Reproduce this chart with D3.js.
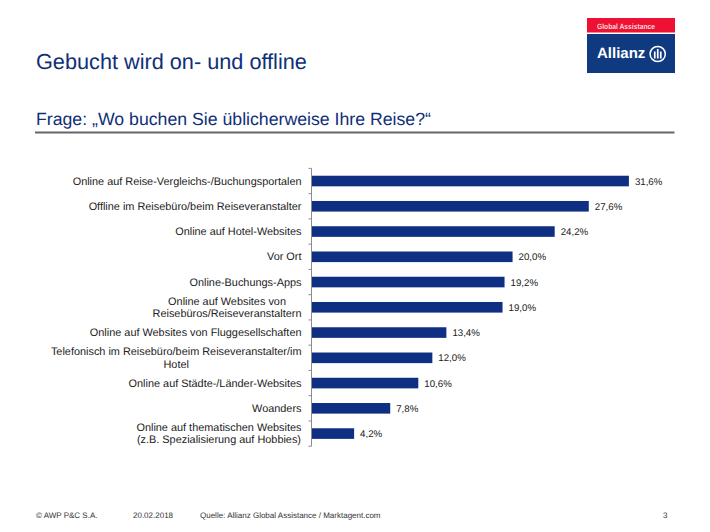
<!DOCTYPE html>
<html lang="de">
<head>
<meta charset="UTF-8">
<title>Gebucht wird on- und offline</title>
<script src="https://d3js.org/d3.v7.min.js"></script>
<style>
  body { margin: 0; background: #fff; }
  svg { display: block; font-family: "Liberation Sans", Arial, sans-serif; text-rendering: geometricPrecision; }
</style>
</head>
<body>
<div id="chart"></div>
<script>
// Daten
const categories = [
  ["Online auf Reise-Vergleichs-/Buchungsportalen"],
  ["Offline im Reisebüro/beim Reiseveranstalter"],
  ["Online auf Hotel-Websites"],
  ["Vor Ort"],
  ["Online-Buchungs-Apps"],
  ["Online auf Websites von", "Reisebüros/Reiseveranstaltern"],
  ["Online auf Websites von Fluggesellschaften"],
  ["Telefonisch im Reisebüro/beim Reiseveranstalter/im", "Hotel"],
  ["Online auf Städte-/Länder-Websites"],
  ["Woanders"],
  ["Online auf thematischen Websites", "(z.B. Spezialisierung auf Hobbies)"]
];
const values = [31.6, 27.6, 24.2, 20.0, 19.2, 19.0, 13.4, 12.0, 10.6, 7.8, 4.2];
const footerTexts = [
  { text: "© AWP P&C S.A.", x: 36 },
  { text: "20.02.2018", x: 133 },
  { text: "Quelle: Allianz Global Assistance / Marktagent.com", x: 200 },
  { text: "3", x: 663 }
];

const width = 710, height = 532;
const navy = "#0f3082";

const svg = d3.select("#chart").append("svg")
  .attr("width", width)
  .attr("height", height);

// Titel
svg.append("text")
  .attr("x", 36).attr("y", 68.5)
  .attr("font-size", 21.7)
  .attr("fill", "#0f2f78")
  .text("Gebucht wird on- und offline");

svg.append("text")
  .attr("x", 36).attr("y", 125)
  .attr("font-size", 17.7)
  .attr("fill", "#0f2f78")
  .text("Frage: „Wo buchen Sie üblicherweise Ihre Reise?“");

svg.append("rect")
  .attr("x", 35).attr("y", 131.5)
  .attr("width", 639.5).attr("height", 2)
  .attr("fill", "#666");

// Logo
svg.append("rect").attr("x", 587).attr("y", 18).attr("width", 88).attr("height", 14.5).attr("fill", "#ee1133");
svg.append("text").attr("x", 597).attr("y", 28.5)
  .attr("font-size", 7.6).attr("font-weight", "bold").attr("fill", "#f7d9d9")
  .attr("textLength", 58).attr("lengthAdjust", "spacingAndGlyphs")
  .text("Global Assistance");
svg.append("rect").attr("x", 587).attr("y", 34).attr("width", 88).attr("height", 39).attr("fill", "#103a80");
svg.append("text").attr("x", 597).attr("y", 58)
  .attr("font-size", 15).attr("font-weight", "bold").attr("fill", "#fff")
  .text("Allianz");
svg.append("circle").attr("cx", 657.7).attr("cy", 54).attr("r", 7.6).attr("fill", "none").attr("stroke", "#fff").attr("stroke-width", 1.5);
svg.selectAll(".logo-bar")
  .data([-3, 0, 3])
  .enter().append("rect")
  .attr("class", "logo-bar")
  .attr("x", d => 656.9 + d)
  .attr("y", d => d === 0 ? 49 : 51.5)
  .attr("width", 1.7)
  .attr("height", d => d === 0 ? 9.5 : 7)
  .attr("fill", "#fff");

// Skalen
const x = d3.scaleLinear().domain([0, 35]).range([312, 312 + 351]);
const y = d3.scaleBand()
  .domain(d3.range(categories.length))
  .range([168.4, 446.2])
  .paddingInner(0.58)
  .paddingOuter(0.29);

// Achse
const step = y.step();
const axis = svg.append("g").attr("stroke", "#8c8c8c").attr("stroke-width", 1).attr("fill", "none");
axis.append("line")
  .attr("x1", 311.5).attr("x2", 311.5)
  .attr("y1", 168.4).attr("y2", 446.2);
axis.selectAll(".tick")
  .data(d3.range(categories.length + 1))
  .enter().append("line")
  .attr("class", "tick")
  .attr("x1", 308.5).attr("x2", 311.5)
  .attr("y1", d => 168.4 + d * step)
  .attr("y2", d => 168.4 + d * step);

// Balken
svg.selectAll(".bar")
  .data(values)
  .enter().append("rect")
  .attr("class", "bar")
  .attr("x", x(0))
  .attr("y", (d, i) => y(i))
  .attr("width", d => x(d) - x(0))
  .attr("height", y.bandwidth())
  .attr("fill", navy);

// Werte
svg.selectAll(".value")
  .data(values)
  .enter().append("text")
  .attr("class", "value")
  .attr("x", d => x(d) + 6)
  .attr("y", (d, i) => y(i) + y.bandwidth() / 2 + 3.6)
  .attr("font-size", 9.7)
  .attr("fill", "#1a1a1a")
  .text(d => d.toFixed(1).replace(".", ",") + "%");

// Kategorien: mehrzeilige Labels sind als Block rechtsbündig, die Zeilen zentriert
const labelRight = 301.5;
const lineHeight = 12.4;
const labels = svg.selectAll(".label")
  .data(categories)
  .enter().append("text")
  .attr("class", "label")
  .attr("text-anchor", "middle")
  .attr("font-size", 10.9)
  .attr("fill", "#222");

labels.each(function(lines, i) {
  const mid = y(i) + y.bandwidth() / 2;
  const spans = d3.select(this).selectAll("tspan")
    .data(lines)
    .enter().append("tspan")
    .attr("y", (d, j) => mid + 3.6 + (j - (lines.length - 1) / 2) * lineHeight)
    .text(d => d);
  const maxWidth = d3.max(spans.nodes(), n => n.getComputedTextLength());
  spans.attr("x", labelRight - maxWidth / 2);
});

// Fußzeile
svg.selectAll(".footer")
  .data(footerTexts)
  .enter().append("text")
  .attr("class", "footer")
  .attr("x", d => d.x)
  .attr("y", 517.7)
  .attr("font-size", 8)
  .attr("fill", "#333")
  .text(d => d.text);
</script>
</body>
</html>
